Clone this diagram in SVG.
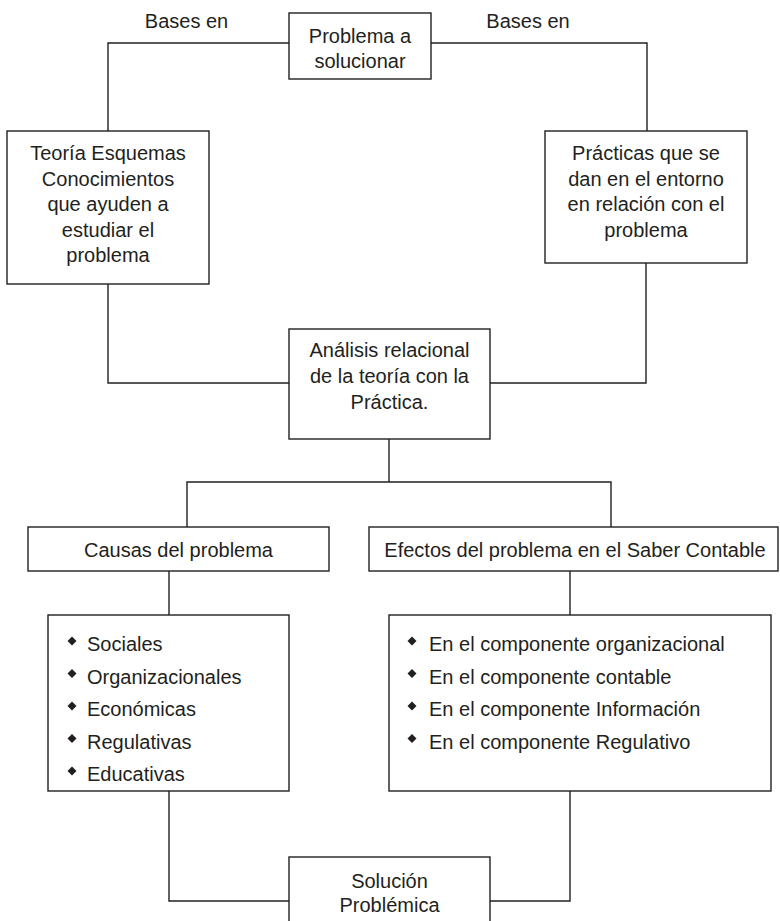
<svg xmlns="http://www.w3.org/2000/svg" width="780" height="921" viewBox="0 0 780 921">
<defs>
<style>
text{font-family:"Liberation Sans",Arial,sans-serif;font-size:20px;fill:#231f20}
.c{text-anchor:middle}
rect{fill:#fff;stroke:#231f20;stroke-width:1.4}
#connectors path{fill:none;stroke:#231f20;stroke-width:1.4}
.b{fill:#231f20;stroke:none}
</style>
<path id="dia" class="b" d="M0,-4.5 L4.5,0 L0,4.5 L-4.5,0 Z"/>
</defs>
<rect x="0" y="0" width="780" height="921" style="fill:#fff;stroke:none"/>
<g id="connectors">
<path d="M289,43 H108 V131"/>
<path d="M431,43 H647 V131"/>
<path d="M108,284 V383 H289"/>
<path d="M646,263 V383 H490"/>
<path d="M389,439 V482"/>
<path d="M187,527 V482 H611 V527"/>
<path d="M169,571 V615"/>
<path d="M570,571 V615"/>
<path d="M169,791 V901 H289"/>
<path d="M570,791 V901 H490"/>
</g>
<g id="label-bases-left"><text class="c" x="186.5" y="28">Bases en</text></g>
<g id="label-bases-right"><text class="c" x="528" y="28">Bases en</text></g>
<g id="problema">
<rect x="289" y="13" width="142" height="66"/>
<text class="c" x="360" y="43">Problema a</text>
<text class="c" x="360" y="68">solucionar</text>
</g>
<g id="teoria">
<rect x="7" y="131" width="202" height="153"/>
<text class="c" x="108" y="160">Teoría Esquemas</text>
<text class="c" x="108" y="186">Conocimientos</text>
<text class="c" x="108" y="211">que ayuden a</text>
<text class="c" x="108" y="237">estudiar el</text>
<text class="c" x="108" y="262">problema</text>
</g>
<g id="practicas">
<rect x="545" y="131" width="202" height="132"/>
<text class="c" x="646" y="160">Prácticas que se</text>
<text class="c" x="646" y="186">dan en el entorno</text>
<text class="c" x="646" y="211">en relación con el</text>
<text class="c" x="646" y="237">problema</text>
</g>
<g id="analisis">
<rect x="289" y="329" width="201" height="110"/>
<text class="c" x="389.5" y="357">Análisis relacional</text>
<text class="c" x="389.5" y="383">de la teoría con la</text>
<text class="c" x="389.5" y="409">Práctica.</text>
</g>
<g id="causas">
<rect x="28" y="527" width="301" height="44"/>
<text class="c" x="178.5" y="557">Causas del problema</text>
</g>
<g id="efectos">
<rect x="369" y="527" width="409" height="44"/>
<text class="c" x="575" y="557">Efectos del problema en el Saber Contable</text>
</g>
<g id="causas-lista">
<rect x="48" y="615" width="241" height="176"/>
<use href="#dia" x="72" y="641"/><text x="87" y="651">Sociales</text>
<use href="#dia" x="72" y="673.5"/><text x="87" y="683.5">Organizacionales</text>
<use href="#dia" x="72" y="706"/><text x="87" y="716">Económicas</text>
<use href="#dia" x="72" y="738.5"/><text x="87" y="748.5">Regulativas</text>
<use href="#dia" x="72" y="771"/><text x="87" y="781">Educativas</text>
</g>
<g id="efectos-lista">
<rect x="389" y="615" width="382" height="176"/>
<use href="#dia" x="412" y="641"/><text x="429" y="651">En el componente organizacional</text>
<use href="#dia" x="412" y="673.5"/><text x="429" y="683.5">En el componente contable</text>
<use href="#dia" x="412" y="706"/><text x="429" y="716">En el componente Información</text>
<use href="#dia" x="412" y="738.5"/><text x="429" y="748.5">En el componente Regulativo</text>
</g>
<g id="solucion">
<rect x="289" y="857" width="201" height="80"/>
<text class="c" x="389.5" y="888">Solución</text>
<text class="c" x="389.5" y="912">Problémica</text>
</g>
</svg>
